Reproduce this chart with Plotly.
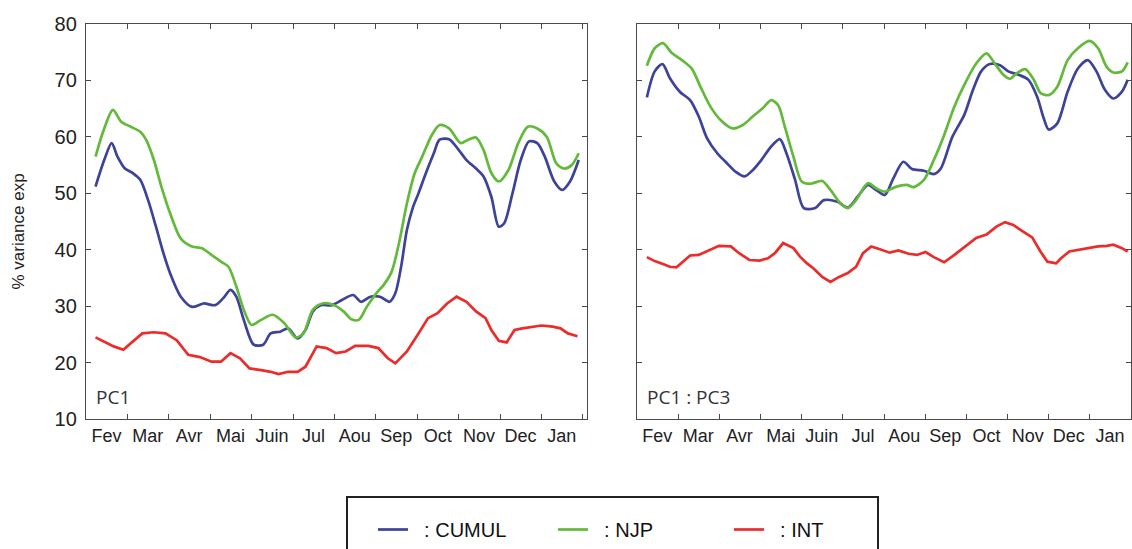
import plotly.graph_objects as go

months = ["Fev", "Mar", "Avr", "Mai", "Juin", "Jul", "Aou", "Sep", "Oct", "Nov", "Dec", "Jan"]
month_ticks = [1, 2, 3, 4, 5, 6, 7, 8, 9, 10, 11, 12]

# ---- Left panel (PC1) ----
pc1_cumul_x = [0.23, 0.44, 0.62, 0.76, 0.94, 1.13, 1.31, 1.5, 1.69, 1.87, 2.06, 2.29, 2.56, 2.84, 3.12, 3.31,
               3.49, 3.63, 3.81, 4.05, 4.28, 4.46, 4.69, 4.88, 5.11, 5.3, 5.48, 5.67, 5.94, 6.18, 6.45, 6.64,
               6.87, 7.1, 7.33, 7.47, 7.61, 7.75, 7.89, 8.03, 8.21, 8.4, 8.54, 8.77, 9.0, 9.19, 9.42, 9.6,
               9.79, 9.97, 10.1, 10.3, 10.5, 10.7, 10.9, 11.08, 11.31, 11.5, 11.69, 11.9]
pc1_cumul_y = [51.2, 55.9, 58.9, 56.5, 54.4, 53.6, 52.4, 48.8, 44.1, 39.4, 35.3, 31.7, 29.9, 30.5, 30.2, 31.4,
               32.9, 31.7, 27.6, 23.2, 23.2, 25.2, 25.5, 26.1, 24.3, 25.8, 29.1, 30.2, 30.2, 31.1, 32.0, 30.8,
               31.7, 31.7, 30.8, 32.3, 37.0, 43.5, 47.4, 50.0, 53.6, 57.1, 59.5, 59.6, 57.7, 55.9, 54.4, 53.0,
               49.4, 44.1, 44.7, 50.0, 55.9, 59.2, 58.9, 56.5, 52.1, 50.6, 52.1, 55.9]

pc1_njp_x = [0.23, 0.44, 0.65, 0.85, 1.08, 1.31, 1.45, 1.64, 1.82, 2.06, 2.29, 2.56, 2.8, 3.03, 3.26, 3.44,
             3.63, 3.81, 4.0, 4.23, 4.51, 4.79, 5.06, 5.25, 5.48, 5.71, 5.99, 6.22, 6.41, 6.59, 6.78, 7.01,
             7.19, 7.38, 7.56, 7.75, 7.94, 8.12, 8.35, 8.54, 8.77, 9.05, 9.23, 9.42, 9.6, 9.79, 9.97, 10.2,
             10.44, 10.67, 10.9, 11.13, 11.36, 11.55, 11.73, 11.9]
pc1_njp_y = [56.5, 61.5, 64.8, 62.7, 61.8, 60.9, 59.5, 55.9, 51.2, 45.9, 42.0, 40.6, 40.3, 39.1, 37.9, 37.0,
             33.5, 29.4, 26.7, 27.6, 28.5, 27.0, 24.5, 25.2, 29.4, 30.5, 30.2, 29.1, 27.7, 27.6, 29.9, 32.3,
             33.8, 36.1, 41.2, 48.2, 53.6, 56.5, 60.3, 62.1, 61.5, 58.9, 59.5, 59.9, 57.7, 53.6, 52.1, 54.1,
             58.9, 61.8, 61.5, 60.0, 55.3, 54.4, 55.0, 57.1]

pc1_int_x = [0.23, 0.44, 0.67, 0.9, 1.08, 1.36, 1.64, 1.92, 2.19, 2.47, 2.75, 3.03, 3.26, 3.49, 3.72, 3.95,
             4.23, 4.46, 4.65, 4.88, 5.11, 5.3, 5.57, 5.81, 6.04, 6.27, 6.5, 6.82, 7.06, 7.29, 7.47, 7.75,
             8.03, 8.26, 8.49, 8.72, 8.95, 9.19, 9.42, 9.65, 9.79, 9.97, 10.16, 10.35, 10.54, 10.76, 11.0,
             11.27, 11.46, 11.64, 11.87]
pc1_int_y = [24.5, 23.7, 22.9, 22.3, 23.4, 25.2, 25.4, 25.2, 24.0, 21.4, 21.0, 20.2, 20.2, 21.7, 20.8, 19.0,
             18.7, 18.4, 18.0, 18.4, 18.4, 19.3, 22.9, 22.6, 21.7, 22.0, 23.0, 23.0, 22.6, 20.8, 19.9, 22.0,
             25.2, 27.9, 28.8, 30.5, 31.7, 30.8, 29.1, 27.9, 25.8, 23.9, 23.6, 25.8, 26.1, 26.4, 26.6,
             26.4, 26.1, 25.2, 24.7]

# ---- Right panel (PC1 : PC3) ----
pc13_cumul_x = [0.24, 0.43, 0.62, 0.8, 1.04, 1.29, 1.5, 1.7, 1.95, 2.15, 2.4, 2.61, 2.81, 3.02, 3.26, 3.47,
                3.63, 3.84, 4.05, 4.33, 4.54, 4.87, 5.12, 5.36, 5.61, 5.81, 6.02, 6.23, 6.47, 6.68, 6.97,
                7.21, 7.38, 7.66, 7.95, 8.16, 8.36, 8.57, 8.82, 9.02, 9.27, 9.51, 9.72, 9.88, 10.0, 10.21,
                10.46, 10.71, 10.95, 11.16, 11.37, 11.57, 11.78, 11.92]
pc13_cumul_y = [67.0, 71.6, 72.9, 70.4, 68.0, 66.5, 63.6, 59.8, 57.1, 55.6, 53.8, 53.0, 54.1, 55.9, 58.3, 59.6,
                57.1, 52.4, 47.4, 47.4, 48.8, 48.5, 47.5, 49.4, 51.5, 50.6, 49.7, 52.7, 55.6, 54.3, 54.0,
                53.4, 54.4, 60.0, 63.9, 68.3, 71.6, 72.9, 72.7, 71.6, 71.0, 70.1, 67.1, 63.3, 61.3, 62.4,
                68.0, 72.1, 73.6, 71.6, 68.3, 66.8, 68.0, 70.1]

pc13_njp_x = [0.24, 0.43, 0.63, 0.84, 1.09, 1.33, 1.54, 1.78, 2.03, 2.32, 2.57, 2.81, 3.06, 3.26, 3.43, 3.59,
              3.8, 4.0, 4.21, 4.5, 4.7, 4.91, 5.12, 5.32, 5.61, 5.81, 6.02, 6.27, 6.55, 6.72, 6.97, 7.21,
              7.46, 7.71, 7.99, 8.24, 8.49, 8.69, 8.9, 9.06, 9.23, 9.43, 9.64, 9.8, 10.0, 10.21, 10.46,
              10.71, 10.99, 11.2, 11.41, 11.57, 11.78, 11.92]
pc13_njp_y = [72.6, 75.7, 76.6, 74.9, 73.6, 72.1, 68.9, 65.4, 63.0, 61.5, 62.1, 63.6, 65.1, 66.5, 65.6, 61.8,
              56.5, 52.1, 51.7, 52.2, 50.6, 48.5, 47.4, 48.8, 51.8, 50.9, 50.3, 51.1, 51.5, 51.1, 52.4, 55.9,
              60.3, 65.4, 69.8, 73.0, 74.8, 73.0, 71.0, 70.3, 71.3, 72.0, 70.1, 67.8, 67.4, 68.9, 73.6,
              75.7, 77.0, 75.7, 72.4, 71.4, 71.6, 73.2]

pc13_int_x = [0.24, 0.43, 0.63, 0.8, 0.96, 1.13, 1.29, 1.5, 1.74, 1.99, 2.28, 2.48, 2.73, 2.98, 3.18, 3.35,
              3.55, 3.8, 3.96, 4.13, 4.29, 4.5, 4.7, 4.91, 5.12, 5.32, 5.49, 5.69, 5.9, 6.14, 6.35, 6.6,
              6.8, 7.01, 7.21, 7.46, 7.71, 7.99, 8.24, 8.49, 8.73, 8.94, 9.14, 9.39, 9.6, 9.8, 9.97, 10.18,
              10.3, 10.5, 10.71, 10.95, 11.2, 11.41, 11.57, 11.78, 11.92]
pc13_int_y = [38.7, 38.0, 37.5, 37.0, 36.9, 37.9, 39.0, 39.1, 39.9, 40.7, 40.6, 39.4, 38.2, 38.1, 38.5, 39.4,
              41.2, 40.3, 38.8, 37.6, 36.7, 35.2, 34.3, 35.2, 35.9, 37.0, 39.4, 40.6, 40.1, 39.5, 39.9, 39.3,
              39.1, 39.6, 38.7, 37.8, 39.1, 40.6, 42.1, 42.7, 44.1, 44.9, 44.4, 43.2, 42.2, 39.7, 37.9, 37.6,
              38.5, 39.7, 40.0, 40.3, 40.6, 40.7, 40.9, 40.3, 39.7]

series_names = [": CUMUL", ": NJP", ": INT"]
colors = ["#3d4399", "#63b93a", "#ec2b2b"]

W, H = 1132, 549


def px_x(p):
    return p / W


def px_y(p):
    return (H - p) / H


fig = go.Figure()

panels = [
    ("x", "y", [(pc1_cumul_x, pc1_cumul_y), (pc1_njp_x, pc1_njp_y), (pc1_int_x, pc1_int_y)], True),
    ("x2", "y2", [(pc13_cumul_x, pc13_cumul_y), (pc13_njp_x, pc13_njp_y), (pc13_int_x, pc13_int_y)], False),
]
legend_ids = ["legend", "legend2", "legend3"]
for xa, ya, series, show in panels:
    for i, (xs, ys) in enumerate(series):
        smooth = i < 2
        fig.add_trace(go.Scatter(
            x=xs, y=ys, mode="lines", xaxis=xa, yaxis=ya,
            name="\u00a0\u00a0" + series_names[i],
            line=dict(color=colors[i], width=2.7,
                      shape="spline" if smooth else "linear",
                      smoothing=0.8 if smooth else None),
            showlegend=show, legend=legend_ids[i],
            hoverinfo="skip",
        ))

axis_col = "#4a4a4a"
xtick_font = dict(family="Liberation Sans, Arial, sans-serif", size=18, color="#222")
ytick_font = dict(family="Liberation Sans, Arial, sans-serif", size=20, color="#222")

common_x = dict(
    tickmode="array", tickvals=month_ticks, ticktext=months,
    ticks="inside", ticklen=5, tickwidth=1.2, tickcolor=axis_col,
    showline=True, linecolor=axis_col, linewidth=1.3, mirror="ticks",
    showgrid=False, zeroline=False, tickfont=xtick_font, ticklabelshift=-21,
    automargin=False, fixedrange=True,
)
common_y = dict(
    range=[10, 80], tickmode="array", tickvals=[10, 20, 30, 40, 50, 60, 70, 80],
    ticks="inside", ticklen=5, tickwidth=1.2, tickcolor=axis_col,
    showline=True, linecolor=axis_col, linewidth=1.3, mirror="ticks",
    showgrid=False, zeroline=False, tickfont=ytick_font, ticklabelstandoff=4,
    automargin=False, fixedrange=True,
)

ydom = [px_y(420), px_y(24)]
fig.update_layout(
    width=W, height=H,
    margin=dict(l=0, r=0, t=0, b=0),
    paper_bgcolor="white", plot_bgcolor="white",
    xaxis=dict(common_x, domain=[px_x(86), px_x(587)], range=[0, 12.1], anchor="y"),
    yaxis=dict(common_y, domain=ydom, anchor="x"),
    xaxis2=dict(common_x, domain=[px_x(637), px_x(1131)], range=[0, 12.0], anchor="y2"),
    yaxis2=dict(common_y, domain=ydom, anchor="x2", showticklabels=False),
    font=dict(family="Liberation Sans, Arial, sans-serif", color="#222"),
)

leg_font = dict(family="Liberation Sans, Arial, sans-serif", size=20, color="#111")
leg_x = [373, 553, 729]
for lid, lx in zip(legend_ids, leg_x):
    fig.update_layout({lid: dict(
        x=px_x(lx), y=px_y(530), xanchor="left", yanchor="middle",
        orientation="h", bgcolor="rgba(0,0,0,0)", borderwidth=0,
        font=leg_font,
    )})

# legend frame
fig.add_shape(type="rect", xref="paper", yref="paper",
              x0=px_x(347), x1=px_x(878), y0=px_y(570), y1=px_y(498),
              line=dict(color="#222", width=2), fillcolor="rgba(0,0,0,0)")

label_font = dict(family="Open Sans, Noto Sans, sans-serif", size=19, color="#333")
fig.add_annotation(text="PC1", xref="paper", yref="paper", x=px_x(94), y=px_y(398),
                   xanchor="left", yanchor="middle", showarrow=False, font=label_font)
fig.add_annotation(text="PC1 : PC3", xref="paper", yref="paper", x=px_x(645), y=px_y(398),
                   xanchor="left", yanchor="middle", showarrow=False, font=label_font)
fig.add_annotation(text="% variance exp", xref="paper", yref="paper", x=px_x(19), y=px_y(232),
                   xanchor="center", yanchor="middle", showarrow=False, textangle=-90,
                   font=dict(family="Liberation Sans, Arial, sans-serif", size=17, color="#222"))

fig.write_html(
    "out.html",
    config={"displayModeBar": False},
    post_script="document.body.style.margin='0px';document.body.style.overflow='hidden';",
)
